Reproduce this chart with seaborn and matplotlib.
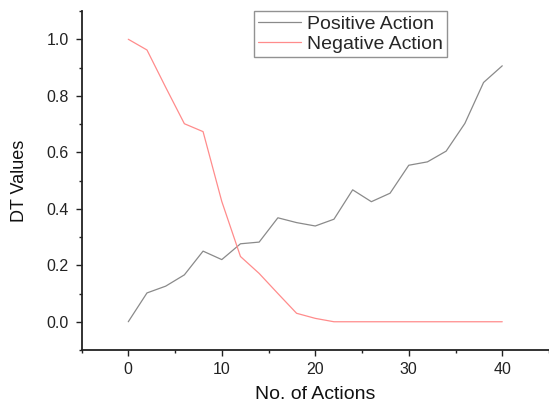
import numpy as np
import pandas as pd
import matplotlib
matplotlib.use("Agg")
import matplotlib.pyplot as plt
from matplotlib.ticker import MultipleLocator
import seaborn as sns

actions = [0, 2, 4, 6, 8, 10, 12, 14, 16, 18, 20, 22, 24, 26, 28, 30, 32, 34, 36, 38, 40]
positive = [0.0, 0.102, 0.126, 0.166, 0.25, 0.22, 0.276, 0.282, 0.368, 0.351, 0.339,
            0.363, 0.467, 0.425, 0.455, 0.554, 0.566, 0.604, 0.702, 0.847, 0.906]
negative = [1.0, 0.962, 0.83, 0.701, 0.673, 0.426, 0.231, 0.171, 0.10, 0.03, 0.012,
            0.0, 0.0, 0.0, 0.0, 0.0, 0.0, 0.0, 0.0, 0.0, 0.0]
series_names = ["Positive Action", "Negative Action"]
series_colors = ["#8a8a8a", "#ff8c8c"]

df = pd.concat([
    pd.DataFrame({"x": actions, "y": positive, "series": series_names[0]}),
    pd.DataFrame({"x": actions, "y": negative, "series": series_names[1]}),
])

sns.set_style("ticks")
plt.rcParams["font.family"] = ["Liberation Sans", "DejaVu Sans"]

fig = plt.figure(figsize=(5.49, 4.03), dpi=100)
ax = fig.add_axes([0.1485, 0.1315, 0.8515, 0.8412])

sns.lineplot(data=df, x="x", y="y", hue="series", hue_order=series_names,
             palette=dict(zip(series_names, series_colors)), linewidth=0.9, ax=ax)

ax.set_xlim(-5, 45)
ax.set_ylim(-0.1, 1.1)
ax.xaxis.set_major_locator(MultipleLocator(10))
ax.xaxis.set_minor_locator(MultipleLocator(5))
ax.yaxis.set_major_locator(MultipleLocator(0.2))
ax.yaxis.set_minor_locator(MultipleLocator(0.1))
ax.yaxis.set_major_formatter(matplotlib.ticker.FormatStrFormatter("%.1f"))

for s in ["top", "right"]:
    ax.spines[s].set_visible(False)
for s in ["left", "bottom"]:
    ax.spines[s].set_linewidth(1.3)
    ax.spines[s].set_color("#222222")

ax.tick_params(which="major", direction="out", length=4.3, width=1.0, color="#222222",
               labelsize=11.5, labelcolor="#222222")
ax.tick_params(axis="x", which="major", pad=4)
ax.tick_params(axis="y", which="major", pad=5)
ax.tick_params(which="minor", direction="out", length=2.4, width=1.0, color="#222222")

ax.set_xlabel("No. of Actions", fontsize=14, color="#111111", labelpad=7)
ax.set_ylabel("DT Values", fontsize=13, color="#111111", labelpad=13)

leg = ax.legend(loc="upper left", bbox_to_anchor=(0.369, 1.0), borderaxespad=0,
                fontsize=14, frameon=True, fancybox=False, handlelength=2.2,
                handletextpad=0.3, borderpad=0.22, labelspacing=0.12)
leg.get_frame().set_edgecolor("#777777")
leg.get_frame().set_linewidth(1.0)
for line in leg.get_lines():
    line.set_linewidth(0.9)

fig.savefig("out.png", dpi=100)
